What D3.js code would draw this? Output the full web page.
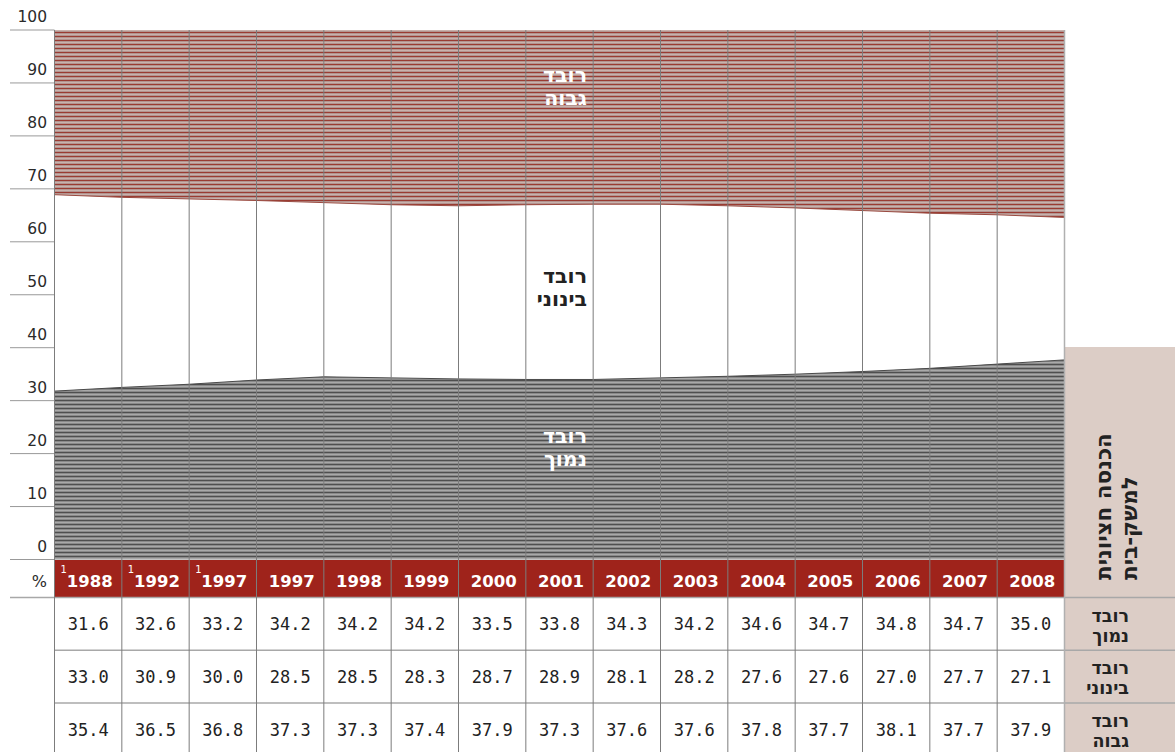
<!DOCTYPE html>
<html>
<head>
<meta charset="utf-8">
<script src="https://cdn.jsdelivr.net/npm/d3@7"></script>
<style>
  html, body { margin: 0; padding: 0; background: #fff; }
  svg { display: block; }
</style>
</head>
<body>
<svg id="chart" width="1175" height="752"></svg>
<script>
// ---- data ----
const years = ["1988", "1992", "1997", "1997", "1998", "1999", "2000", "2001", "2002", "2003", "2004", "2005", "2006", "2007", "2008"];
const footnoteMarks = ["1", "1", "1", "", "", "", "", "", "", "", "", "", "", "", ""];
const yTicks = [0, 10, 20, 30, 40, 50, 60, 70, 80, 90, 100];

// table values
const lowStratum = [31.6, 32.6, 33.2, 34.2, 34.2, 34.2, 33.5, 33.8, 34.3, 34.2, 34.6, 34.7, 34.8, 34.7, 35.0];
const middleStratum = [33.0, 30.9, 30.0, 28.5, 28.5, 28.3, 28.7, 28.9, 28.1, 28.2, 27.6, 27.6, 27.0, 27.7, 27.1];
const highStratum = [35.4, 36.5, 36.8, 37.3, 37.3, 37.4, 37.9, 37.3, 37.6, 37.6, 37.8, 37.7, 38.1, 37.7, 37.9];

// boundaries of the areas as drawn (at the column edges)
const lowerEdge = [31.8, 32.5, 33.1, 33.9, 34.5, 34.3, 34.1, 34.0, 34.0, 34.3, 34.6, 35.0, 35.5, 36.1, 36.9, 37.7];
const upperEdge = [68.9, 68.4, 68.1, 67.8, 67.4, 67.0, 66.8, 67.0, 67.1, 67.1, 66.8, 66.4, 65.9, 65.4, 65.1, 64.6];

const rowLabels = [["רובד", "נמוך"], ["רובד", "בינוני"], ["רובד", "גבוה"]];
const areaLabels = [["רובד", "גבוה"], ["רובד", "בינוני"], ["רובד", "נמוך"]];
const sideTitle = ["הכנסה חציונית", "למשק-בית"];

// ---- layout ----
const svg = d3.select("#chart");
const W = 1175, H = 752;
const left = 54.5, right = 1064.5;
const x = d3.scaleLinear().domain([0, years.length]).range([left, right]);
const y = d3.scaleLinear().domain([0, 100]).range([559.5, 30]);
const headerTop = 560, headerBottom = 597.5;
const rowH = 52.8;

const RED = "#9f231b";
const BEIGE = "#dccdc6";
const GRID = "#7c7c7c";
const LINE = "#a8a8a8";

// patterns
const defs = svg.append("defs");
const pHigh = defs.append("pattern").attr("id", "pHigh").attr("patternUnits", "userSpaceOnUse")
  .attr("width", 8).attr("height", 4);
pHigh.append("rect").attr("width", 8).attr("height", 4).attr("fill", "#b39490");
pHigh.append("rect").attr("y", 0).attr("width", 8).attr("height", 1).attr("fill", "#9a3b32");
pHigh.append("rect").attr("y", 2).attr("width", 8).attr("height", 1).attr("fill", "#c8b2ad");

const pLow = defs.append("pattern").attr("id", "pLow").attr("patternUnits", "userSpaceOnUse")
  .attr("width", 8).attr("height", 4);
pLow.append("rect").attr("width", 8).attr("height", 4).attr("fill", "#8a8a8a");
pLow.append("rect").attr("y", 0).attr("width", 8).attr("height", 1).attr("fill", "#4f4f4f");
pLow.append("rect").attr("y", 2).attr("width", 8).attr("height", 1).attr("fill", "#a9a9a9");

// side panel
svg.append("rect").attr("x", right).attr("y", 347).attr("width", W - right).attr("height", H - 347)
  .attr("fill", BEIGE);

// areas
const idx = d3.range(lowerEdge.length);
const areaLow = d3.area().x(i => x(i)).y0(y(0)).y1(i => y(lowerEdge[i]));
const areaMid = d3.area().x(i => x(i)).y0(i => y(lowerEdge[i])).y1(i => y(upperEdge[i]));
const areaHigh = d3.area().x(i => x(i)).y0(i => y(upperEdge[i])).y1(y(100));

svg.append("path").datum(idx).attr("d", areaMid).attr("fill", "#fff");
svg.append("path").datum(idx).attr("d", areaHigh).attr("fill", "url(#pHigh)");
svg.append("path").datum(idx).attr("d", areaLow).attr("fill", "url(#pLow)");

svg.append("path").datum(idx)
  .attr("d", d3.line().x(i => x(i)).y(i => y(upperEdge[i])))
  .attr("fill", "none").attr("stroke", "#9a4a40").attr("stroke-width", 1);
svg.append("path").datum(idx)
  .attr("d", d3.line().x(i => x(i)).y(i => y(lowerEdge[i])))
  .attr("fill", "none").attr("stroke", "#4a4a4a").attr("stroke-width", 1);

// y axis ticks
const tickG = svg.append("g");
tickG.selectAll("line").data(yTicks).join("line")
  .attr("x1", 10).attr("x2", left).attr("y1", d => y(d)).attr("y2", d => y(d))
  .attr("stroke", "#999").attr("stroke-width", 1);
tickG.selectAll("text").data(yTicks).join("text")
  .attr("x", 47).attr("y", d => y(d) - 8)
  .attr("text-anchor", "end")
  .attr("font-family", "DejaVu Sans").attr("font-size", 15.5).attr("fill", "#2a2a2a")
  .text(d => d);

// header row
svg.append("rect").attr("x", left).attr("y", headerTop).attr("width", right - left)
  .attr("height", headerBottom - headerTop).attr("fill", RED);
svg.append("text").attr("x", 47).attr("y", 587).attr("text-anchor", "end")
  .attr("font-family", "DejaVu Sans").attr("font-size", 16).attr("fill", "#2a2a2a").text("%");

const yearG = svg.append("g");
yearG.selectAll("text.yr").data(years).join("text").attr("class", "yr")
  .attr("x", (d, i) => (x(i) + x(i + 1)) / 2 + 1.5).attr("y", 587)
  .attr("text-anchor", "middle")
  .attr("font-family", "DejaVu Sans").attr("font-weight", "bold").attr("font-size", 16.5)
  .attr("fill", "#fff").text(d => d);
yearG.selectAll("text.fn").data(footnoteMarks).join("text").attr("class", "fn")
  .attr("x", (d, i) => x(i) + 6).attr("y", 573)
  .attr("font-family", "DejaVu Sans").attr("font-size", 10)
  .attr("fill", "#fff").text(d => d);

// table
const tableRows = [lowStratum, middleStratum, highStratum];
tableRows.forEach((row, r) => {
  const cy = headerBottom + rowH * r + rowH / 2;
  svg.append("g").selectAll("text").data(row).join("text")
    .attr("x", (d, i) => (x(i) + x(i + 1)) / 2).attr("y", cy + 6)
    .attr("text-anchor", "middle")
    .attr("font-family", "DejaVu Sans Mono").attr("font-size", 17).attr("fill", "#222")
    .text(d => d.toFixed(1));
  const lab = svg.append("text").attr("x", 1129).attr("text-anchor", "end")
    .attr("font-family", "DejaVu Sans").attr("font-weight", "bold").attr("font-size", 17.5)
    .attr("fill", "#222");
  lab.append("tspan").attr("x", 1129).attr("y", headerBottom + rowH * r + 24).text(rowLabels[r][0]);
  lab.append("tspan").attr("x", 1129).attr("y", headerBottom + rowH * r + 44).text(rowLabels[r][1]);
});

// table lines
svg.append("line").attr("x1", 10).attr("x2", W).attr("y1", headerBottom).attr("y2", headerBottom)
  .attr("stroke", LINE).attr("stroke-width", 1.5);
[1, 2].forEach(r => {
  svg.append("line").attr("x1", left).attr("x2", W)
    .attr("y1", headerBottom + rowH * r).attr("y2", headerBottom + rowH * r)
    .attr("stroke", LINE).attr("stroke-width", 1.5);
});

// vertical grid lines
svg.append("g").selectAll("line").data(d3.range(years.length + 1)).join("line")
  .attr("x1", d => x(d)).attr("x2", d => x(d))
  .attr("y1", y(100)).attr("y2", H)
  .attr("stroke", (d) => d === years.length ? "#b0b0b0" : GRID)
  .attr("stroke-width", d => d === years.length ? 1.5 : 1);

// area labels
const labelX = 587;
const labelPos = [[82, 105, "#fff"], [283, 306, "#222"], [443, 466, "#fff"]];
areaLabels.forEach((lines, k) => {
  const t = svg.append("text").attr("text-anchor", "end")
    .attr("font-family", "DejaVu Sans").attr("font-weight", "bold").attr("font-size", 20.5)
    .attr("fill", labelPos[k][2]);
  t.append("tspan").attr("x", labelX).attr("y", labelPos[k][0]).text(lines[0]);
  t.append("tspan").attr("x", labelX).attr("y", labelPos[k][1]).text(lines[1]);
});

// side title (rotated)
sideTitle.forEach((s, k) => {
  svg.append("text")
    .attr("transform", `translate(${1111 + k * 26},580) rotate(-90)`)
    .attr("text-anchor", "start")
    .attr("font-family", "DejaVu Sans").attr("font-weight", "bold").attr("font-size", 21.5)
    .attr("fill", "#222").text(s);
});
</script>
</body>
</html>
